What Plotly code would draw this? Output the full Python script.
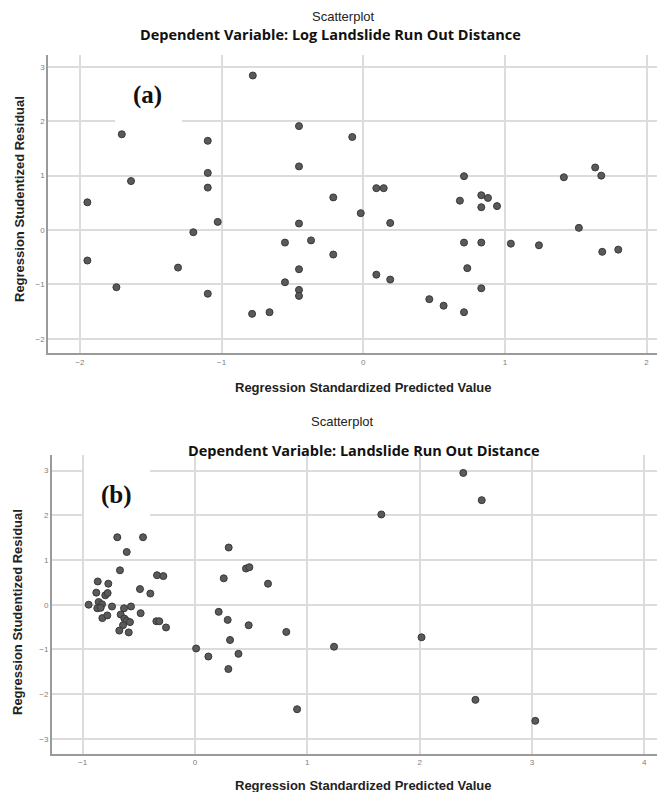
import plotly.graph_objects as go

# Panel (a): Log Landslide Run Out Distance
pred_a = [-0.78, -1.705, -0.454, -1.098, -1.64, -1.098, -0.454, -1.098, -1.948, -0.212,
          -1.028, -0.454, -1.2, -0.553, -0.369, -0.212, -1.948, -1.308, -0.454, -0.553,
          -1.743, -1.098, -0.454, -0.454, -0.078, 0.711, 0.092, 0.144, -0.018, 0.19,
          0.682, 0.833, 0.88, 0.833, 0.944, 1.416, 1.637, 1.68, 1.522, 0.711,
          0.833, 1.042, 1.24, 1.687, 1.8, 0.734, 0.092, 0.19, 0.833, 0.466,
          0.567, 0.711, -0.785, -0.662]
resid_a = [2.84, 1.76, 1.91, 1.64, 0.90, 1.05, 1.17, 0.78, 0.51, 0.60,
           0.15, 0.12, -0.04, -0.23, -0.19, -0.45, -0.56, -0.69, -0.72, -0.96,
           -1.05, -1.17, -1.10, -1.21, 1.71, 0.99, 0.77, 0.77, 0.31, 0.13,
           0.54, 0.64, 0.59, 0.42, 0.44, 0.97, 1.15, 1.0, 0.04, -0.23,
           -0.23, -0.25, -0.28, -0.40, -0.36, -0.70, -0.82, -0.91, -1.07, -1.27,
           -1.39, -1.51, -1.54, -1.51]

# Panel (b): Landslide Run Out Distance
pred_b = [-0.692, -0.463, -0.608, -0.668, -0.866, -0.772, -0.338, -0.282, -0.879, -0.799,
          -0.778, -0.49, -0.398, -0.947, -0.858, -0.828, -0.87, -0.84, -0.739, -0.632,
          -0.57, -0.825, -0.781, -0.662, -0.629, -0.608, -0.579, -0.641, -0.484, -0.344,
          -0.318, -0.258, -0.674, -0.59, 0.30, 0.454, 0.484, 0.256, 0.65, 0.211,
          0.291, 0.478, 0.813, 0.312, 2.017, 0.01, 1.238, 0.119, 0.387, 0.297,
          0.909, 2.497, 3.03, 2.389, 2.553, 1.659]
resid_b = [1.51, 1.51, 1.18, 0.77, 0.52, 0.47, 0.66, 0.64, 0.27, 0.21,
           0.26, 0.35, 0.25, 0.0, 0.06, 0.01, -0.08, -0.07, -0.04, -0.08,
           -0.04, -0.30, -0.24, -0.22, -0.31, -0.36, -0.39, -0.46, -0.19, -0.37,
           -0.37, -0.51, -0.58, -0.62, 1.28, 0.81, 0.84, 0.59, 0.47, -0.16,
           -0.34, -0.46, -0.61, -0.79, -0.73, -0.98, -0.94, -1.16, -1.10, -1.44,
           -2.34, -2.13, -2.60, 2.95, 2.34, 2.02]

xticks_a = [-2, -1, 0, 1, 2]
yticks_a = [-2, -1, 0, 1, 2, 3]
xticks_b = [-1, 0, 1, 2, 3, 4]
yticks_b = [-3, -2, -1, 0, 1, 2, 3]

# The page body has an 8px margin; size the figure to fill the rest of the window
OFF = 8
W, H = 665 - OFF, 792 - OFF
def px(x): return (x - OFF) / W
def py(y): return 1 - (y - OFF) / H

marker = dict(size=7, color="#5a5a5a", line=dict(color="#383838", width=1))

fig = go.Figure()
fig.add_trace(go.Scatter(x=pred_a, y=resid_a, mode="markers", marker=marker,
                         xaxis="x", yaxis="y", showlegend=False, hoverinfo="x+y"))
fig.add_trace(go.Scatter(x=pred_b, y=resid_b, mode="markers", marker=marker,
                         xaxis="x2", yaxis="y2", showlegend=False, hoverinfo="x+y"))

tickfont = dict(family="Liberation Sans, Arial", size=8, color="#808080")
grid = dict(showgrid=True, gridcolor="#dcdcdc", gridwidth=1.5, zeroline=False,
            showline=True, linecolor="#9a9a9a", linewidth=1.5, ticks="",
            tickfont=tickfont, fixedrange=True)

fig.update_layout(
    width=W, height=H,
    margin=dict(l=0, r=0, t=0, b=0),
    paper_bgcolor="white", plot_bgcolor="white",
    xaxis=dict(domain=[px(48), 1], range=[-2.226, 2.13], tickvals=xticks_a,
               anchor="y", **grid),
    yaxis=dict(domain=[py(353.3), py(55)], range=[-2.265, 3.217], tickvals=yticks_a,
               anchor="x", **grid),
    xaxis2=dict(domain=[px(51.7), 1], range=[-1.276, 4.185], tickvals=xticks_b,
                anchor="y2", **grid),
    yaxis2=dict(domain=[py(754), py(455)], range=[-3.342, 3.351], tickvals=yticks_b,
                anchor="x2", **grid),
)

title_font = dict(family="Liberation Sans, Arial", size=13, color="#222")
sub_font = dict(family="Open Sans, Lato", size=14.5, color="#111")
axis_font = dict(family="Liberation Sans, Arial", size=13, color="#222")
label_font = dict(family="Liberation Serif, Times New Roman", size=25, color="#111")

ann = []
def A(text, x, y, font, angle=0):
    ann.append(dict(text=text, x=px(x), y=py(y), xref="paper", yref="paper",
                    xanchor="center", yanchor="middle", showarrow=False,
                    font=font, textangle=angle))

A("Scatterplot", 343, 16, title_font)
A("<b>Dependent Variable: Log Landslide Run Out Distance</b>", 330, 34, sub_font)
A("<b>Regression Standardized Predicted Value</b>", 363, 387, axis_font)
A("<b>Regression Studentized Residual</b>", 19, 199, axis_font, -90)
A("<b>(a)</b>", 147, 95, label_font)

A("Scatterplot", 342, 421, title_font)
A("<b>Dependent Variable: Landslide Run Out Distance</b>", 364, 450, sub_font)
A("<b>Regression Standardized Predicted Value</b>", 363, 785, axis_font)
A("<b>Regression Studentized Residual</b>", 17, 612, axis_font, -90)
A("<b>(b)</b>", 116, 495, label_font)

fig.update_layout(annotations=ann)

shapes = [
    dict(type="rect", xref="paper", yref="paper", x0=px(115), x1=px(182),
         y0=py(126), y1=py(76), fillcolor="white", line=dict(width=0), layer="above"),
    dict(type="rect", xref="paper", yref="paper", x0=px(84), x1=px(150),
         y0=py(520), y1=py(466), fillcolor="white", line=dict(width=0), layer="above"),
]
fig.update_layout(shapes=shapes)

fig.write_html("out.html")
